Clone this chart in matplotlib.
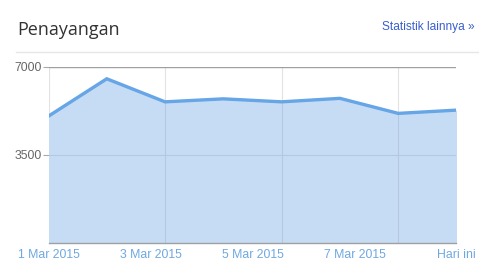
import matplotlib
matplotlib.use('Agg')
import matplotlib.pyplot as plt
from matplotlib.lines import Line2D

# data: daily views, 1 Mar 2015 .. today
days = [0, 1, 2, 3, 4, 5, 6, 7]
views = [5040, 6530, 5610, 5730, 5610, 5750, 5150, 5280]
tick_pos = [0, 1.75, 3.5, 5.25, 7]
tick_labels = ['1 Mar 2015', '3 Mar 2015', '5 Mar 2015', '7 Mar 2015', 'Hari ini']
grid_days = [0, 2, 4, 6]
y_ticks = [3500, 7000]

fig = plt.figure(figsize=(4.79, 2.64), dpi=100)
W, H = 479, 264

# header
fig.text(17 / W, 1 - 30 / H, 'Penayangan', fontsize=13, color='#333333',
         family='Open Sans', va='center', ha='left')
fig.text(475 / W, 1 - 27 / H, 'Statistik lainnya \u00bb', fontsize=8.6,
         color='#3a5fcd', family='Liberation Sans', va='center', ha='right')
fig.add_artist(Line2D([16 / W, 1], [1 - 51.5 / H] * 2, color='#e6e6e6', lw=1))

ax = fig.add_axes([48.5 / W, 1 - 242.5 / H, 408 / W, 175.5 / H])

# grid: light grey above the area, bluish inside it
for d in grid_days:
    ax.axvline(d, color='#e2e2e2', lw=0.8, zorder=0)
ax.fill_between(days, views, 0, color='#c6dcf5', lw=0, zorder=1)
ax.vlines(grid_days[1:], 0, [views[d] for d in grid_days[1:]],
          color='#b4c8e0', lw=0.8, zorder=2)
ax.axhline(3500, color='#b4c8e0', lw=0.8, zorder=2)
ax.axhline(7000, color='#a0a0a0', lw=1, zorder=2)
ax.plot(days, views, color='#66a5e6', lw=2.4, solid_joinstyle='miter', zorder=3)

ax.set_xlim(0, 7)
ax.set_ylim(0, 7000)

ax.set_xticks(tick_pos)
ax.set_xticklabels(tick_labels, family='Liberation Sans', fontsize=8.8, color='#6fa8e0')
ax.tick_params(axis='x', which='both', length=0, pad=5)
ax.grid(False)

ax.set_yticks(y_ticks)
ax.set_yticklabels([str(v) for v in y_ticks], family='Liberation Sans',
                   fontsize=8.8, color='#666666')
ax.tick_params(axis='y', length=4, color='#aaaaaa', pad=1)

for s in ['top', 'right', 'left']:
    ax.spines[s].set_visible(False)
ax.spines['bottom'].set_color('#a0a0a0')
ax.spines['bottom'].set_linewidth(1)
ax.set_facecolor('white')

fig.savefig('out.png', dpi=100)
